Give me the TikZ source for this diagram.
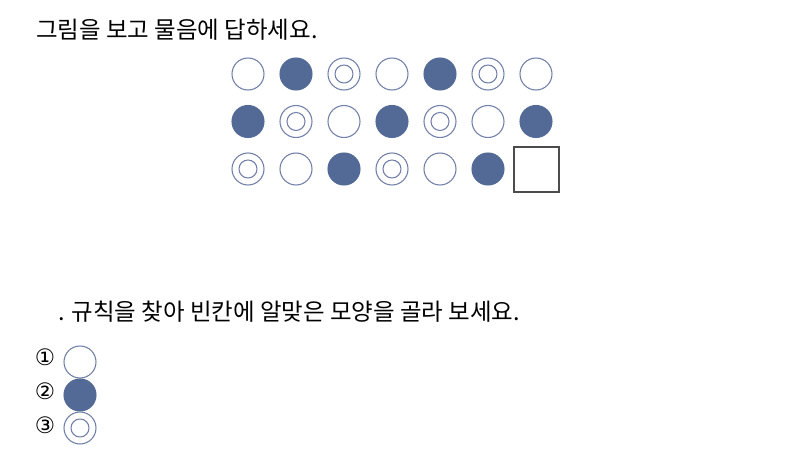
\documentclass[tikz,border=0pt]{standalone}
\usepackage{fontspec}
\newfontfamily\kr{Noto Sans CJK KR}
\newfontfamily\symf{DejaVu Sans}
\definecolor{dotfill}{RGB}{84,106,150}
\definecolor{dotline}{RGB}{112,128,168}
\tikzset{
  dot/.style={circle, draw=dotline, line width=0.8pt, minimum size=24pt, inner sep=0pt},
  dotfull/.style={dot, fill=dotfill, draw=dotfill},
  dotin/.style={circle, draw=dotline, line width=0.8pt, minimum size=13.5pt, inner sep=0pt},
  blank/.style={draw=black!70, line width=1pt, minimum size=33.75pt, inner sep=0pt},
  txt/.style={anchor=base west, inner sep=0pt, font=\kr\fontsize{17.6}{20}\selectfont},
  num/.style={inner sep=0pt, font=\symf\fontsize{17}{19}\selectfont}
}
\begin{document}
\begin{tikzpicture}[x=0.75pt, y=-0.75pt]
  \useasboundingbox (0,0) rectangle (793,470);
  \node[txt] (title) at (36,39) {그림을 보고 물음에 답하세요.};
  % pattern: empty, full, ring, repeating
  \foreach \k in {0,...,19} {
    \pgfmathtruncatemacro{\row}{int(\k/7)}
    \pgfmathtruncatemacro{\col}{mod(\k,7)}
    \pgfmathtruncatemacro{\kind}{mod(\k,3)}
    \ifcase\kind
      \node[dot] (c\k) at (248+48*\col, 74+47.5*\row) {};
    \or
      \node[dotfull] (c\k) at (248+48*\col, 74+47.5*\row) {};
    \or
      \node[dot] (c\k) at (248+48*\col, 74+47.5*\row) {};
      \node[dotin] (i\k) at (c\k) {};
    \fi
  }
  \node[blank] (gap) at (536.5,169.5) {};
  \node[txt] (ask) at (58,321) {. 규칙을 찾아 빈칸에 알맞은 모양을 골라 보세요.};
  % choices
  \node[num] (n1) at (45,357) {①};
  \node[num] (n2) at (45,391) {②};
  \node[num] (n3) at (45,425) {③};
  \node[dot] (a1) at (80,362) {};
  \node[dotfull] (a2) at (80,395) {};
  \node[dot] (a3) at (80,428) {};
  \node[dotin] (a3i) at (a3) {};
\end{tikzpicture}
\end{document}
